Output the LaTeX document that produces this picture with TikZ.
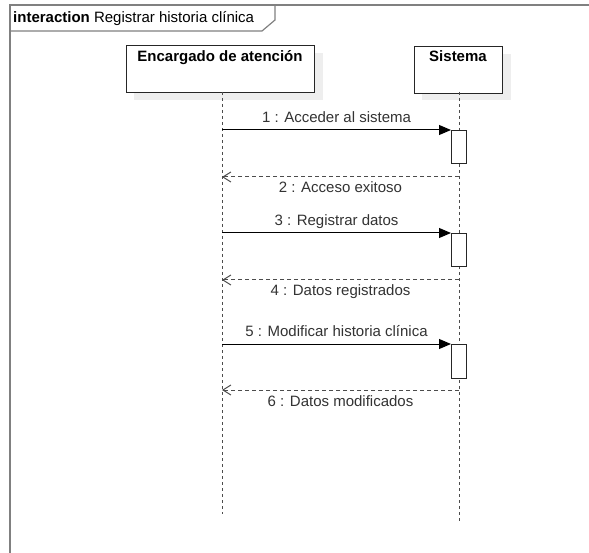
\documentclass[tikz,border=0pt]{standalone}
\usepackage{fontspec}
\setmainfont{Liberation Sans}
\usetikzlibrary{arrows.meta}
\definecolor{framegray}{HTML}{808080}
\definecolor{shadowgray}{HTML}{EEEEEE}
\definecolor{labelgray}{HTML}{333333}
\tikzset{
  lbl/.style={font=\fontsize{15}{18}\selectfont, text=labelgray, inner sep=0pt},
  actor/.style={draw=black!85, line width=1pt, fill=white, minimum height=47pt,
    inner sep=0pt, font=\bfseries\fontsize{15}{18}\selectfont, anchor=north west,
    text depth=0pt},
  shadowbox/.style={fill=shadowgray, draw=none},
  lifeline/.style={draw=black!70, line width=1pt, dash pattern=on 3pt off 3pt},
  activation/.style={draw=black!85, line width=1pt, fill=white, minimum width=15pt,
    minimum height=33pt, inner sep=0pt, anchor=north west},
  msg/.style={draw=black, line width=1pt, -{Triangle[length=12pt,width=10pt]}},
  reply/.style={draw=black!70, line width=1pt, dash pattern=on 4pt off 3pt,
    -{Straight Barb[length=8pt,width=10pt,line width=1pt]}},
  frameline/.style={draw=framegray, line width=1.2pt},
}
\begin{document}
\begin{tikzpicture}[x=1pt,y=-1pt]
\useasboundingbox[fill=white] (0,0) rectangle (589,553);

% interaction frame and its name tab
\draw[frameline] (10,553) -- (10,5) -- (589,5);
\draw[frameline] (10,31) -- (262,31) -- (275,20) -- (275,5);
\node[lbl, text=black, anchor=base west] (title) at (13,23)
  {\textbf{interaction} Registrar historia clínica};

% participant shadows
\fill[shadowbox] (134,53) rectangle (323,100);
\fill[shadowbox] (422,54) rectangle (511,100);

% participants
\node[actor, minimum width=188pt] (enc) at (126,45) {};
\node[font=\bfseries\fontsize{15}{18}\selectfont, anchor=base, inner sep=0pt]
  (encname) at (220,62) {Encargado de atención};
\node[actor, minimum width=88pt] (sis) at (414,46) {};
\node[font=\bfseries\fontsize{15}{18}\selectfont, anchor=base, inner sep=0pt]
  (sisname) at (458,62) {Sistema};

% lifelines
\coordinate (encTop) at (222,92);
\coordinate (encEnd) at (222,514);
\coordinate (sisTop) at (459,92);
\coordinate (sisEnd) at (459,521);
\draw[lifeline] (encTop) -- (encEnd);
\draw[lifeline] (sisTop) -- (sisEnd);

% activations on the system lifeline
\node[activation] (act1) at (451,130) {};
\node[activation] (act2) at (451,233) {};
\node[activation, minimum height=34pt] (act3) at (451,344) {};

% message end points on the lifelines
\coordinate (m1) at (222,130);
\coordinate (r1s) at (459,177);
\coordinate (r1e) at (222,177);
\coordinate (m2) at (222,233);
\coordinate (r2s) at (459,280);
\coordinate (r2e) at (222,280);
\coordinate (m3) at (222,344);
\coordinate (r3s) at (459,390);
\coordinate (r3e) at (222,390);

% calls and replies
\draw[msg] (m1) -- (act1.north west);
\draw[reply] (r1s) -- (r1e);
\draw[msg] (m2) -- (act2.north west);
\draw[reply] (r2s) -- (r2e);
\draw[msg] (m3) -- (act3.north west);
\draw[reply] (r3s) -- (r3e);

% message labels
\node[lbl, anchor=base] (l1) at (336.5,123) {1 : Acceder al sistema};
\node[lbl, anchor=base] (l2) at (340.5,193) {2 : Acceso exitoso};
\node[lbl, anchor=base] (l3) at (336.5,226) {3 : Registrar datos};
\node[lbl, anchor=base] (l4) at (340.5,296) {4 : Datos registrados};
\node[lbl, anchor=base] (l5) at (336.5,337) {5 : Modificar historia clínica};
\node[lbl, anchor=base] (l6) at (340.5,406) {6 : Datos modificados};
\end{tikzpicture}
\end{document}
